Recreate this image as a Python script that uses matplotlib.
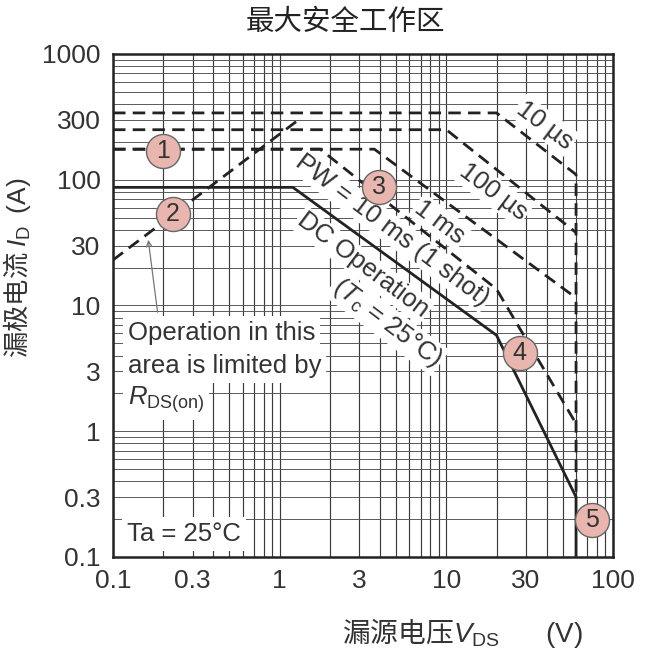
import numpy as np
import matplotlib
matplotlib.use('Agg')
import matplotlib.pyplot as plt
from matplotlib.ticker import FixedLocator, FixedFormatter, LogLocator, NullFormatter

plt.rcParams['font.family'] = ['Liberation Sans', 'Noto Sans CJK SC']
plt.rcParams['mathtext.fontset'] = 'custom'
plt.rcParams['mathtext.rm'] = 'Liberation Sans'
plt.rcParams['mathtext.it'] = 'Liberation Sans:italic'
plt.rcParams['mathtext.bf'] = 'Liberation Sans:bold'

# axis ticks
x_ticks = [0.1, 0.3, 1, 3, 10, 30, 100]
x_tick_labels = ['0.1', '0.3', '1', '3', '10', '30', '100']
y_ticks = [0.1, 0.3, 1, 3, 10, 30, 100, 300, 1000]
y_tick_labels = ['0.1', '0.3', '1', '3', '10', '30', '100', '300', '1000']

# SOA curves (VDS in V, ID in A)
vds_10us = [0.1, 20, 60, 60]
id_10us = [340, 340, 110, 0.3]
vds_100us = [0.1, 10, 60]
id_100us = [250, 250, 38]
vds_1ms = [0.1, 3.7, 60]
id_1ms = [175, 175, 11.5]
vds_10ms = [0.1, 1.75, 20, 60]
id_10ms = [175, 175, 13.5, 1.15]
vds_dc = [0.1, 1.2, 20, 60, 60]
id_dc = [87, 87, 5.8, 0.3, 0.1]
vds_rds = [0.1, 1.3]
id_rds = [23, 300]

# numbered circles
mark_v = [0.2, 0.229, 3.94, 27.6, 74.7]
mark_i = [169, 53, 87.5, 4.18, 0.196]
mark_txt = ['1', '2', '3', '4', '5']

fig = plt.figure(figsize=(6.47, 6.59), dpi=100)
ax = fig.add_axes([113 / 647, 1 - 557 / 659, 500 / 647, 503 / 659])
ax.set_xscale('log')
ax.set_yscale('log')
ax.set_xlim(0.1, 100)
ax.set_ylim(0.1, 1000)

ax.xaxis.set_major_locator(FixedLocator(x_ticks))
ax.xaxis.set_major_formatter(FixedFormatter(x_tick_labels))
ax.yaxis.set_major_locator(FixedLocator(y_ticks))
ax.yaxis.set_major_formatter(FixedFormatter(y_tick_labels))
ax.xaxis.set_minor_locator(LogLocator(base=10, subs=np.arange(1, 10), numticks=20))
ax.yaxis.set_minor_locator(LogLocator(base=10, subs=np.arange(1, 10), numticks=20))
ax.xaxis.set_minor_formatter(NullFormatter())
ax.yaxis.set_minor_formatter(NullFormatter())
ax.tick_params(which='both', length=0)
ax.tick_params(axis='x', pad=9, labelsize=19, labelcolor='#333333')
ax.tick_params(axis='y', pad=9, labelsize=19, labelcolor='#333333')

ax.grid(True, axis='x', which='both', color='#3a3a3a', lw=0.85, zorder=0)
ax.grid(True, axis='y', which='both', color='#5a5a5a', lw=0.7, zorder=0)
ax.set_axisbelow(True)
for s in ax.spines.values():
    s.set_linewidth(1.8)
    s.set_color('#222222')

dash = dict(color='#222222', lw=2.0, ls=(0, (4.5, 2.6)), zorder=3)
ax.plot(vds_10us, id_10us, **dash)
ax.plot(vds_100us, id_100us, **dash)
ax.plot(vds_1ms, id_1ms, **dash)
ax.plot(vds_10ms, id_10ms, **dash)
ax.plot(vds_rds, id_rds, **dash)
ax.plot(vds_dc, id_dc, color='#222222', lw=2.0, zorder=3)

# labels on the curves
halo = dict(facecolor='white', edgecolor='none', pad=1.5)
tkw = dict(fontsize=18.5, color='#333333', ha='center', va='center',
           rotation=-37, rotation_mode='anchor', bbox=halo, zorder=4)
ax.text(39.1, 272, '10 µs', **tkw)
ax.text(19.05, 80, '100 µs', **tkw)
ax.text(9.16, 46, '1 ms', **tkw)
ax.text(4.72, 39.8, 'PW = 10 ms (1 shot)', **tkw)
ax.text(3.16, 20.9, 'DC Operation', **tkw)
ax.text(4.4, 7.25, r'($T_\mathrm{c}$ = 25°C)', **tkw)

box = dict(facecolor='white', edgecolor='none', pad=3.5)
lkw = dict(fontsize=18.5, color='#333333', ha='left', va='center', bbox=box, zorder=4)
ax.text(0.123, 6.03, 'Operation in this', **lkw)
ax.text(0.123, 3.3, 'area is limited by', **lkw)
ax.text(0.123, 1.77, r'$R_\mathrm{DS(on)}$', **lkw)
ax.text(0.121, 0.152, 'Ta = 25°C', **lkw)

ax.annotate('', xy=(0.162, 35), xytext=(0.186, 8.4),
            arrowprops=dict(arrowstyle='->', color='#777777', lw=0.9), zorder=4)

ax.plot(mark_v, mark_i, ls='none', marker='o', ms=24.5, mfc='#e8b5af',
        mec='#666666', mew=1.0, zorder=5, clip_on=False)
for v, i, t in zip(mark_v, mark_i, mark_txt):
    ax.text(v, i, t, fontsize=18, color='#333333', ha='center', va='center', zorder=6)

# CJK parts take the text's own font; math parts use Liberation Sans
ax.set_ylabel(r'漏极电流 $I_\mathrm{D}$  $\mathrm{(A)}$', fontsize=19, color='#333333',
              family='Noto Sans CJK SC')
ax.yaxis.set_label_coords(-0.16, 0.575)
ax.set_xlabel(r'漏源电压$V_\mathrm{DS}\quad\quad\mathrm{(V)}$', fontsize=20, color='#333333',
              family='Noto Sans CJK SC')
ax.xaxis.set_label_coords(0.698, -0.118)

fig.text(345 / 647, 1 - 23 / 659, '最大安全工作区', fontsize=20.5, color='#222222',
         ha='center', va='center')

fig.savefig('out.png', dpi=100)
